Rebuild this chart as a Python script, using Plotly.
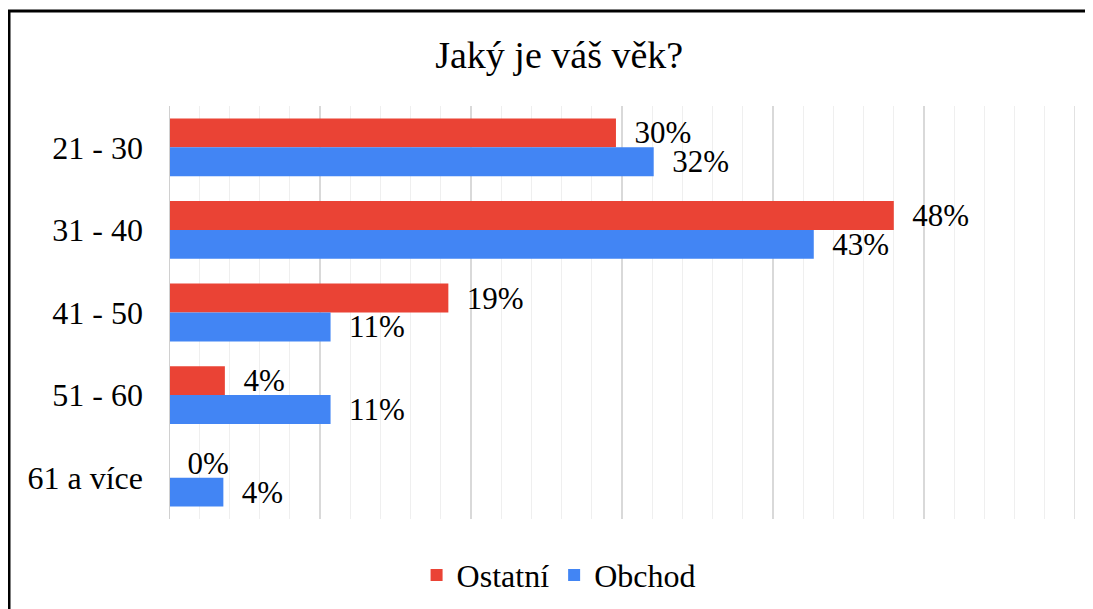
import plotly.graph_objects as go

# age groups and share of respondents
age_groups = ["21 - 30", "31 - 40", "41 - 50", "51 - 60", "61 a více"]
ostatni = [0.296, 0.48, 0.185, 0.037, 0.0]
obchod = [0.321, 0.427, 0.107, 0.107, 0.036]

RED = "#ea4335"
BLUE = "#4285f4"
FONT = "Liberation Serif"

# page body has an 8px margin, so the figure starts at (8, 8)
W, H = 1085, 601
L, T = 161, 98
PW, PH = 906, 413

label_font = dict(family=FONT, size=31, color="black")

fig = go.Figure()
fig.add_trace(go.Bar(
    y=age_groups, x=ostatni, name="Ostatní", orientation="h",
    marker=dict(color=RED, line=dict(width=0)),
    texttemplate="  %{x:.0%}", textposition="outside", constraintext="none",
    textfont=label_font, outsidetextfont=label_font,
    cliponaxis=False,
))
fig.add_trace(go.Bar(
    y=age_groups, x=obchod, name="Obchod", orientation="h",
    marker=dict(color=BLUE, line=dict(width=0)),
    texttemplate="  %{x:.0%}", textposition="outside", constraintext="none",
    textfont=label_font, outsidetextfont=label_font,
    cliponaxis=False,
))

fig.update_layout(
    width=W, height=H,
    margin=dict(l=L, r=W - L - PW, t=T, b=H - T - PH, autoexpand=False),
    paper_bgcolor="white", plot_bgcolor="white",
    font=dict(family=FONT, size=31, color="black"),
    title=dict(text="Jaký je váš věk?", x=0.508, xanchor="center", y=(H - 47) / H, yanchor="middle",
               font=dict(family=FONT, size=38, color="black")),
    barmode="group", bargap=0.3, bargroupgap=0,
    showlegend=True,
    legend=dict(orientation="h", x=0.43, xanchor="center", y=-0.136, yanchor="middle",
                font=dict(family=FONT, size=32, color="black"), traceorder="normal",
                itemwidth=30),
    xaxis=dict(range=[0, 0.6], dtick=0.1, showticklabels=False, showgrid=True,
               gridcolor="#d9d9d9", gridwidth=1.5, zeroline=False,
               showline=False, ticks="",
               minor=dict(dtick=0.02, showgrid=True, gridcolor="#efefef", gridwidth=1)),
    yaxis=dict(autorange="reversed", showgrid=False, zeroline=False, showline=False,
               ticks="", ticklabelstandoff=25,
               tickfont=dict(family=FONT, size=32, color="black")),
    shapes=[
        dict(type="rect", xref="paper", yref="paper",
             x0=(1 - L) / PW, x1=(W + 20 - L) / PW,
             y0=-0.4, y1=(T + PH - 3) / PH,
             line=dict(color="black", width=3), layer="below"),
        dict(type="line", xref="x", yref="paper", x0=0, x1=0, y0=0, y1=1,
             line=dict(color="#d0d0d0", width=2)),
        dict(type="line", xref="x", yref="paper", x0=0.6, x1=0.6, y0=0, y1=1,
             line=dict(color="#d9d9d9", width=1.5), layer="below"),
    ],
)

fig.write_html("out.html")
